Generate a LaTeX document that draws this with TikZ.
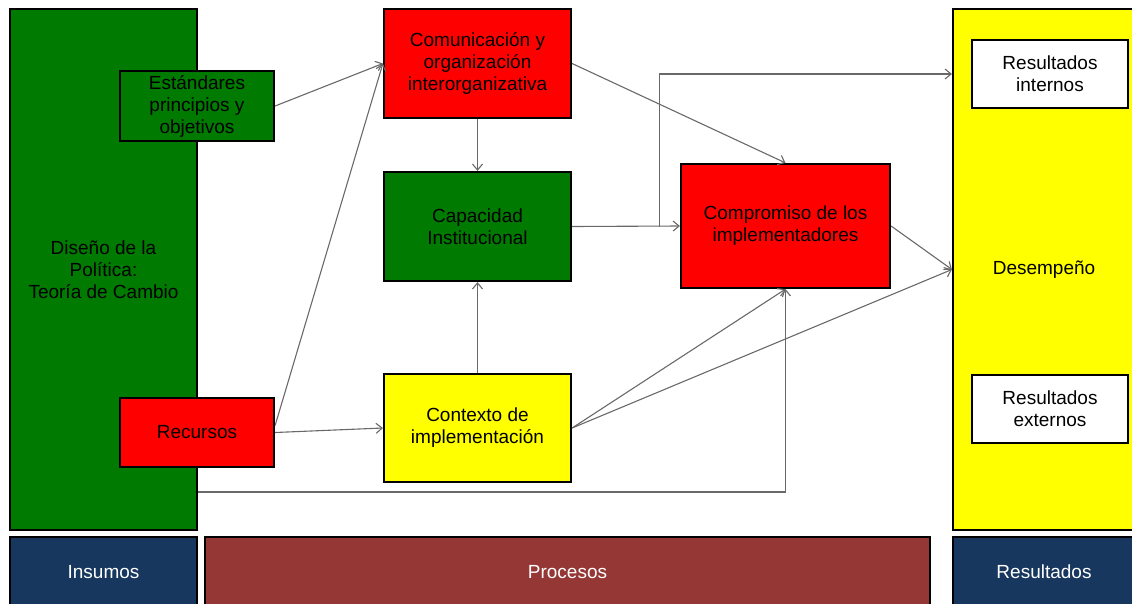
\documentclass[tikz,border=0pt]{standalone}
\usepackage{fontspec}
\setmainfont{Liberation Sans}
\usetikzlibrary{arrows.meta}
\definecolor{boxgreen}{RGB}{0,122,0}
\definecolor{boxred}{RGB}{255,0,0}
\definecolor{boxyellow}{RGB}{255,255,0}
\definecolor{bandblue}{RGB}{23,55,94}
\definecolor{bandbrown}{RGB}{149,55,53}
\definecolor{linkgray}{RGB}{105,105,105}
\begin{document}
\begin{tikzpicture}[x=1pt,y=-1pt,
  blk/.style args={#1/#2}{draw=black, line width=2.2pt, rectangle, inner sep=0pt,
    minimum width=#1pt, minimum height=#2pt, align=center,
    font=\fontsize{19}{22}\selectfont},
  band/.style={text=white},
  arr/.style={draw=linkgray, line width=1.1pt, -{Straight Barb[length=6pt,width=10pt]}}]
\useasboundingbox (0,0) rectangle (1132,603);

% column backgrounds
\node[blk=187/521, fill=boxgreen] (diseno) at (103.5,269.5) {Diseño de la\\Política:\\Teoría de Cambio};
\node[blk=182/521, fill=boxyellow] (des) at (1044,269.5) {Desempeño};

% inputs
\node[blk=154/70, fill=boxgreen] (est) at (197,106) {Estándares\\principios y\\objetivos};
\node[blk=154/69, fill=boxred] (rec) at (197,432.5) {Recursos};

% processes
\node[blk=187/109, fill=boxred] (com) at (477.5,63.5) {Comunicación y\\organización\\interorganizativa};
\node[blk=187/109, fill=boxgreen] (cap) at (477.5,226.5) {Capacidad\\Institucional};
\node[blk=187/108, fill=boxyellow] (ctx) at (477.5,428) {Contexto de\\implementación};
\node[blk=209/124, fill=boxred] (comp) at (785.5,226) {Compromiso de los\\implementadores};

% results
\node[blk=156/68, fill=white] (rint) at (1050,74) {Resultados\\internos};
\node[blk=156/68, fill=white] (rext) at (1050,409) {Resultados\\externos};

% bottom bands
\node[blk=187/70, fill=bandblue, band] (ins) at (103.5,572) {Insumos};
\node[blk=725/70, fill=bandbrown, band] (pro) at (567.5,572) {Procesos};
\node[blk=182/70, fill=bandblue, band] (res) at (1044,572) {Resultados};

% connectors
\coordinate (low) at (400,492);
\draw[arr] (est.east) -- (com.west);
\draw[arr] ([yshift=7pt]rec.east) -- (com.west);
\draw[arr] (rec.east) -- (ctx.west);
\draw[arr] (com.south) -- (cap.north);
\draw[arr] (ctx.north) -- (cap.south);
\draw[arr] (com.east) -- (comp.north);
\draw[arr] (cap.east) -- (comp.west);
\draw[arr] ([xshift=87pt]cap.east) |- (rint.west -| des.west);
\draw[arr] (comp.east) -- (des.west);
\draw[arr] (ctx.east) -- (comp.south);
\draw[arr] (ctx.east) -- (des.west);
\draw[arr] (diseno.east |- low) -| (comp.south);
\end{tikzpicture}
\end{document}
